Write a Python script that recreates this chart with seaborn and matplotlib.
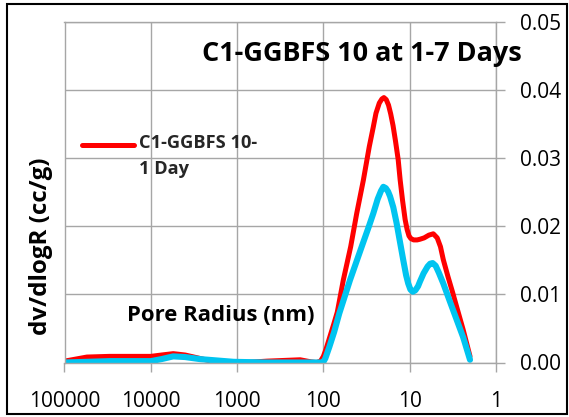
import matplotlib
matplotlib.use("Agg")
import numpy as np
import matplotlib.pyplot as plt
import seaborn as sns
from matplotlib.patches import Rectangle
from matplotlib.ticker import FixedLocator, FixedFormatter, NullLocator
from matplotlib.legend_handler import HandlerLine2D

# ---- data ----
red_x = [100000, 55000, 30000, 16000, 10000, 7500, 5500, 4000, 2700, 1700, 1100, 450, 186, 140, 120,
         108, 100, 93, 85, 76, 69, 58.8, 48.3, 41.1, 34.4, 29.4, 26.5, 24.6, 22.5, 21.0, 19.9,
         18.7, 17.6, 16.6, 15.6, 14.6, 13.6, 12.9, 12.1, 11.3, 10.7, 10.2, 9.7, 9.0,
         8.2, 7.6, 6.8, 6.0, 5.33, 4.8, 4.4, 4.08, 3.6, 3.2, 2.86, 2.4, 2.0]
red_y = [0.0002, 0.0008, 0.0009, 0.0009, 0.0009, 0.0011, 0.0013, 0.0011, 0.0006, 0.0000, -0.0001, 0.0002,
         0.0004, 0.0001, 0.0000, 0.0002, 0.0009, 0.0020, 0.0036, 0.0056, 0.0074, 0.0121, 0.0170, 0.0219,
         0.0268, 0.0317, 0.0345, 0.0366, 0.0381, 0.0387, 0.0389,
         0.0386, 0.0378, 0.0365, 0.0348, 0.0325, 0.0298, 0.0268, 0.0238, 0.0210, 0.0195, 0.0186, 0.0182,
         0.0180, 0.0180, 0.0181, 0.0183, 0.0187, 0.0189, 0.0183, 0.0170, 0.0151, 0.0126, 0.0104,
         0.0082, 0.0048, 0.0009]

blue_x = [100000, 30000, 10000, 7500, 5500, 4000, 2700, 1100, 450, 186, 105, 100, 95,
          85.3, 75, 65.5, 49.2, 36.0, 29.5, 26.4, 23.5, 21.5, 20.2, 18.9, 17.8, 16.9, 15.5,
          14.2, 13.0, 11.9, 11.0, 10.4, 9.8, 9.2, 8.6, 8.0, 7.6, 6.9, 6.2, 5.8, 5.42,
          5.0, 4.6, 4.08, 3.5, 2.86, 2.4, 2.0]
blue_y = [0.0000, 0.0002, 0.0002, 0.0005, 0.0009, 0.0008, 0.0005, 0.0001, 0.0000, 0.0000, 0.0000, 0.0001,
          0.0006, 0.0023, 0.0045, 0.0072, 0.0121, 0.0170, 0.0201, 0.0219, 0.0240, 0.0252, 0.0258,
          0.0256, 0.0251, 0.0244, 0.0228, 0.0205, 0.0178, 0.0151, 0.0128, 0.0116, 0.0107, 0.0104,
          0.0106, 0.0112, 0.0119, 0.0131, 0.0141, 0.0145, 0.0146, 0.0142, 0.0132, 0.0116, 0.0093,
          0.0063, 0.0037, 0.0004]

x_ticks = [100000, 10000, 1000, 100, 10, 1]
x_tick_labels = ["100000", "10000", "1000", "100", "10", "1"]
y_ticks = [0.00, 0.01, 0.02, 0.03, 0.04, 0.05]

title = "C1-GGBFS 10 at 1-7 Days"
legend_label = "C1-GGBFS 10-\n1 Day"
x_label = "Pore Radius (nm)"
y_label = "dv/dlogR (cc/g)"

# ---- style ----
sns.set_theme(style="white")
plt.rcParams["font.family"] = ["Open Sans", "DejaVu Sans"]

W, H = 569, 417
fig = plt.figure(figsize=(W / 100, H / 100), dpi=100)
ax = fig.add_axes([64.5 / W, 1 - 362.5 / H, (496 - 64.5) / W, (362.5 - 22) / H])

red_color = "#FF0000"
blue_color = "#00C4F0"
grid_color = "#A6A6A6"

sns.lineplot(x=red_x, y=red_y, color=red_color, lw=3.6, ax=ax, sort=False, estimator=None,
             solid_capstyle="round", solid_joinstyle="round")
sns.lineplot(x=blue_x, y=blue_y, color=blue_color, lw=4.4, ax=ax, sort=False, estimator=None,
             solid_capstyle="round", solid_joinstyle="round")

ax.set_xscale("log")
ax.set_xlim(100000, 1)
ax.set_ylim(0, 0.05)

ax.xaxis.set_major_locator(FixedLocator(x_ticks))
ax.xaxis.set_major_formatter(FixedFormatter(x_tick_labels))
ax.xaxis.set_minor_locator(NullLocator())
ax.set_yticks(y_ticks)
ax.set_yticklabels([f"{v:.2f}" for v in y_ticks])

ax.grid(True, which="major", color=grid_color, lw=1.0)
for s in ax.spines.values():
    s.set_color(grid_color)
    s.set_linewidth(1.0)

ax.yaxis.tick_right()
ax.tick_params(axis="x", which="major", bottom=True, top=False, direction="out", length=6.5,
               width=1, color=grid_color, labelsize=15, pad=14, labelcolor="black")
ax.tick_params(axis="y", which="major", right=True, left=False, direction="out", length=6.5,
               width=1, color=grid_color, labelsize=15, pad=11, labelcolor="black")

ax.set_ylabel(y_label, fontsize=17, fontweight="bold", color="black")
ax.yaxis.set_label_position("left")
ax.yaxis.set_label_coords(-0.054, 0.341)
ax.yaxis.label.set_va("center")

ax.set_xlabel(x_label, fontsize=17, fontweight="bold", color="black")
ax.xaxis.set_label_coords(0.363, 0.138)
ax.xaxis.label.set_va("center")

title_txt = fig.text(362 / W, 1 - 54 / H, title, ha="center", va="center", fontsize=19,
                     fontweight="bold", color="black")


class FirstLineHandler(HandlerLine2D):
    """Legend line placed beside the first line of a two-line label."""
    def create_artists(self, legend, orig_handle, xdescent, ydescent, width, height,
                       fontsize, trans):
        arts = super().create_artists(legend, orig_handle, xdescent, ydescent, width, height,
                                      fontsize, trans)
        for a in arts:
            a.set_ydata(np.asarray(a.get_ydata(), dtype=float) + 8.3)
        return arts


leg = ax.legend(handles=[ax.lines[0]], labels=[legend_label], loc="upper left",
                bbox_to_anchor=(82 / W, 1 - 134 / H), bbox_transform=fig.transFigure,
                frameon=False, prop={"weight": "bold", "size": 13}, handlelength=2.9,
                handletextpad=0.25, borderpad=0, borderaxespad=0,
                handler_map={ax.lines[0]: FirstLineHandler()})
for t in leg.get_texts():
    t.set_linespacing(1.55)

fig.add_artist(Rectangle((7 / W, 3 / H), (567 - 7) / W, (414 - 4) / H, transform=fig.transFigure,
                         fill=False, ec="black", lw=1.5))

# fit bold text sizes to the lengths measured in the reference
renderer = fig.canvas.get_renderer()
def fit(t, target, vertical=False):
    bb = t.get_window_extent(renderer)
    w = bb.height if vertical else bb.width
    if w > 0:
        t.set_fontsize(t.get_fontsize() * target / w)

fit(title_txt, 320)
fit(ax.xaxis.label, 188)
fit(ax.yaxis.label, 177, vertical=True)
fit(leg.get_texts()[0], 118)

fig.savefig("out.png", dpi=100)
